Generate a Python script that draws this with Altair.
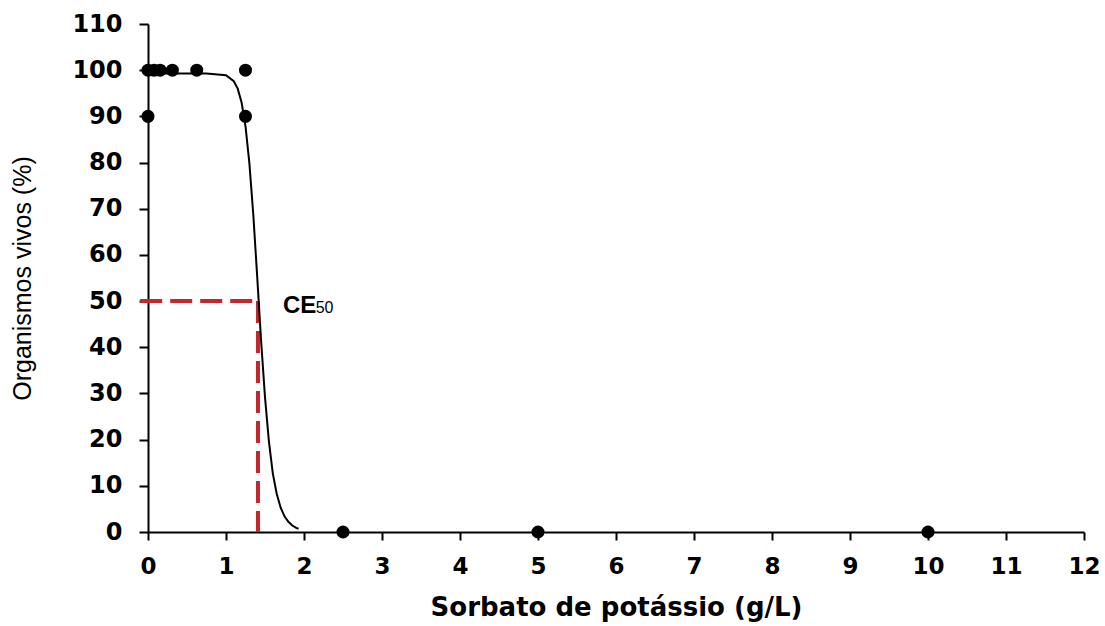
import altair as alt
import pandas as pd

# observed data points
obs_x = [0, 0, 0.078, 0.156, 0.3125, 0.625, 1.25, 1.25, 2.5, 5, 10]
obs_y = [100, 90, 100, 100, 100, 100, 100, 90, 0, 0, 0]

# fitted curve
curve_x = [0, 0.25, 0.5, 0.75, 1.0, 1.1, 1.15, 1.2, 1.25, 1.3, 1.35, 1.4, 1.45,
           1.5, 1.55, 1.6, 1.65, 1.7, 1.75, 1.8, 1.85, 1.9, 1.93]
curve_y = [99.3, 99.3, 99.3, 99.3, 98.9, 97.6, 96.0, 93.0, 87.9, 79.8, 68.7, 55.3, 41.4,
           29.2, 19.6, 12.7, 8.3, 5.3, 3.4, 2.2, 1.4, 0.9, 0.7]

ec50_x = 1.41
ec50_y = 50
hline_start = -0.1

x_ticks = list(range(0, 13))
y_ticks = list(range(0, 111, 10))

obs = pd.DataFrame({"x": obs_x, "y": obs_y})
curve = pd.DataFrame({"x": curve_x, "y": curve_y})
hline = pd.DataFrame({"x": [hline_start], "x2": [ec50_x], "y": [ec50_y]})
vline = pd.DataFrame({"x": [ec50_x], "y": [ec50_y], "y2": [0]})
lab_ce = pd.DataFrame({"x": [1.73], "y": [47.4], "t": ["CE"]})
lab_50 = pd.DataFrame({"x": [2.15], "y": [47.4], "t": ["50"]})

xs = alt.Scale(domain=[0, 12], nice=False, zero=False)
ys = alt.Scale(domain=[0, 110], nice=False, zero=False)

xaxis = alt.Axis(
    values=x_ticks, format="d", grid=False,
    domainColor="black", domainWidth=2, tickColor="black", tickWidth=2, tickSize=8,
    labelFont="DejaVu Sans", labelFontWeight="bold", labelFontSize=23, labelColor="black",
    labelPadding=15, labelFlush=False,
    title="Sorbato de potássio (g/L)", titleFont="DejaVu Sans", titleFontWeight="bold",
    titleFontSize=26, titleColor="black", titleBaseline="alphabetic", titleY=83,
)
yaxis = alt.Axis(
    values=y_ticks, format="d", grid=False,
    domainColor="black", domainWidth=2, tickColor="black", tickWidth=2, tickSize=9,
    labelFont="DejaVu Sans", labelFontWeight="bold", labelFontSize=24, labelColor="black",
    labelPadding=17, labelFlush=False,
    title="Organismos vivos (%)", titleFont="Liberation Sans", titleFontWeight="normal",
    titleFontSize=25, titleColor="black", titleBaseline="alphabetic",
    titleX=-118, titleY=254, titleAngle=270,
)

red = "#C1272D"

h = alt.Chart(hline).mark_rule(color=red, strokeWidth=4, strokeDash=[22, 8]).encode(
    x=alt.X("x:Q", scale=xs, axis=xaxis), x2="x2:Q",
    y=alt.Y("y:Q", scale=ys, axis=yaxis),
)
v = alt.Chart(vline).mark_rule(color=red, strokeWidth=4, strokeDash=[22, 8]).encode(
    x=alt.X("x:Q", scale=xs), y=alt.Y("y:Q", scale=ys), y2="y2:Q",
)
line = alt.Chart(curve).mark_line(color="black", strokeWidth=2).encode(
    x=alt.X("x:Q", scale=xs), y=alt.Y("y:Q", scale=ys),
)
pts = alt.Chart(obs).mark_point(filled=True, color="black", opacity=1, size=170, shape="circle").encode(
    x=alt.X("x:Q", scale=xs), y=alt.Y("y:Q", scale=ys),
)
t1 = alt.Chart(lab_ce).mark_text(font="Liberation Sans", fontWeight="bold", fontSize=24,
                                 align="left", baseline="alphabetic", color="black").encode(
    x=alt.X("x:Q", scale=xs), y=alt.Y("y:Q", scale=ys), text="t:N",
)
t2 = alt.Chart(lab_50).mark_text(font="Liberation Sans", fontWeight="normal", fontSize=16,
                                 align="left", baseline="alphabetic", color="black").encode(
    x=alt.X("x:Q", scale=xs), y=alt.Y("y:Q", scale=ys), text="t:N",
)

chart = alt.layer(h, v, line, pts, t1, t2).properties(
    width=936, height=508,
    autosize=alt.AutoSizeParams(type="none"),
    padding={"left": 148, "top": 24, "right": 21, "bottom": 94},
    background="white",
).configure_view(stroke=None)

chart.save("out.html", embed_options={"renderer": "svg", "actions": False})
